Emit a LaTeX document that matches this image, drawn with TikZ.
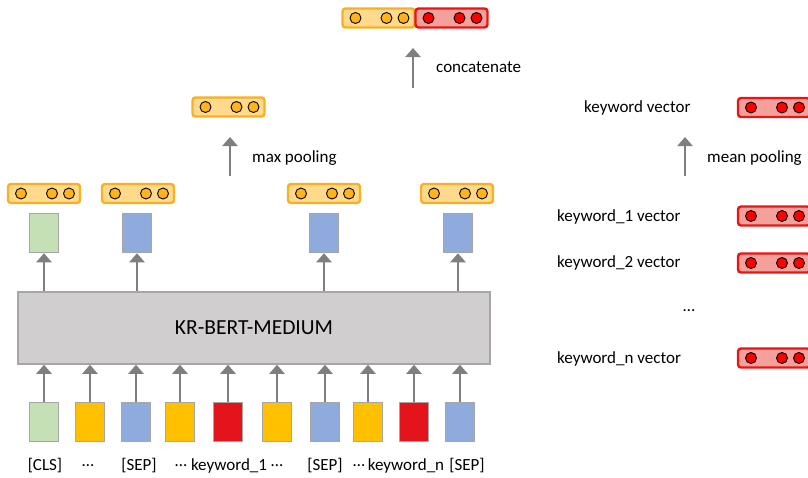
\documentclass[tikz,border=0pt]{standalone}
\usepackage{fontspec}
\setmainfont{Carlito}
\usepackage{xcolor}
\usepackage{tikz}
\usetikzlibrary{arrows.meta}
\definecolor{bertgray}{RGB}{208,206,206}
\definecolor{boxline}{RGB}{166,166,166}
\definecolor{clsgreen}{RGB}{197,224,180}
\definecolor{sepblue}{RGB}{143,170,220}
\definecolor{tokyellow}{RGB}{255,192,0}
\definecolor{kwred}{RGB}{227,20,28}
\definecolor{arrowgray}{RGB}{127,127,127}
\definecolor{orangefill}{RGB}{255,218,140}
\definecolor{orangeline}{RGB}{247,176,35}
\definecolor{orangedot}{RGB}{255,180,30}
\definecolor{redfill}{RGB}{244,160,155}
\definecolor{redline}{RGB}{235,20,20}
\definecolor{reddot}{RGB}{255,0,0}

% one feature vector: name, x, y, colour prefix
\newcommand{\featvec}[4]{%
  \node[vecbox, draw=#4line, fill=#4fill] (#1) at (#2,#3) {};
  \foreach \dx in {-23,8,25}
    \node[dot, fill=#4dot] at (#2+\dx,#3) {};
}

\begin{document}
\begin{tikzpicture}[x=1pt, y=-1pt,
    every node/.style={font=\fontsize{17}{20}\selectfont},
    vecbox/.style={rectangle, rounded corners=3pt, line width=2.4pt, minimum width=72pt, minimum height=19pt, inner sep=0pt},
    dot/.style={circle, draw=black, line width=0.9pt, minimum size=11pt, inner sep=0pt},
    tok/.style={rectangle, draw=boxline, line width=1.5pt, minimum width=29pt, minimum height=39pt, inner sep=0pt},
    arr/.style={-{Triangle[width=15pt,length=9pt]}, draw=arrowgray, line width=2.6pt},
    lbl/.style={inner sep=0pt, anchor=west}]
    \clip (0,0) rectangle (808,477);

    % encoder
    \node[draw=boxline, fill=bertgray, line width=1.5pt, minimum width=472pt, minimum height=72pt] (bert) at (254,328)
        {\fontsize{21.5}{24}\selectfont KR-BERT-MEDIUM};

    % input tokens
    \foreach \n/\x/\lx/\c/\t in {1/44/45/clsgreen/[CLS], 2/90/88/tokyellow/…, 3/136/139/sepblue/[SEP],
        4/180/181/tokyellow/…, 5/228/229/kwred/keyword\_1, 6/277/277/tokyellow/…, 7/325/325/sepblue/[SEP],
        8/368/359/tokyellow/…, 9/414/406/kwred/keyword\_n, 10/460/467/sepblue/[SEP]} {
      \node[tok, fill=\c] (in\n) at (\x,422) {};
      \node (lab\n) at (\lx,466) {\t};
      \draw[arr] (in\n) -- (in\n |- bert.south);
    }

    % token outputs
    \node[tok, fill=clsgreen] (out1) at (44,233) {};
    \node[tok, fill=sepblue] (out2) at (137,233) {};
    \node[tok, fill=sepblue] (out3) at (324,233) {};
    \node[tok, fill=sepblue] (out4) at (458,233) {};
    \foreach \n in {1,...,4}
      \draw[arr] (bert.north -| out\n) -- (out\n);

    \featvec{hcls}{44}{193.5}{orange}
    \featvec{hsep1}{138}{193.5}{orange}
    \featvec{hsep2}{324}{193.5}{orange}
    \featvec{hsep3}{457}{193.5}{orange}

    % max pooling
    \featvec{sentvec}{228.5}{107}{orange}
    \coordinate (mpfoot) at (230,176);
    \draw[arr] (mpfoot) -- (230,137);
    \node[lbl] (mplab) at (252,158) {max pooling};

    % concatenate
    \featvec{catleft}{378.5}{18}{orange}
    \featvec{catright}{451.5}{18}{red}
    \coordinate (catfoot) at (413,88);
    \draw[arr] (catfoot) -- (413,48);
    \node[lbl] (catlab) at (436,67) {concatenate};

    % keyword side
    \node[lbl] (kwlab) at (584,108) {keyword vector};
    \featvec{kwvec}{774}{107.5}{red}
    \coordinate (mnfoot) at (685,176);
    \draw[arr] (mnfoot) -- (685,137);
    \node[lbl] (mnlab) at (707,158) {mean pooling};

    \node[lbl] (kw1lab) at (557,217) {keyword\_1 vector};
    \featvec{kw1}{774}{216}{red}
    \node[lbl] (kw2lab) at (557,263) {keyword\_2 vector};
    \featvec{kw2}{774}{263}{red}
    \node (kwdots) at (689,311) {…};
    \node[lbl] (kwnlab) at (557,359) {keyword\_n vector};
    \featvec{kwn}{774}{358}{red}
\end{tikzpicture}
\end{document}
